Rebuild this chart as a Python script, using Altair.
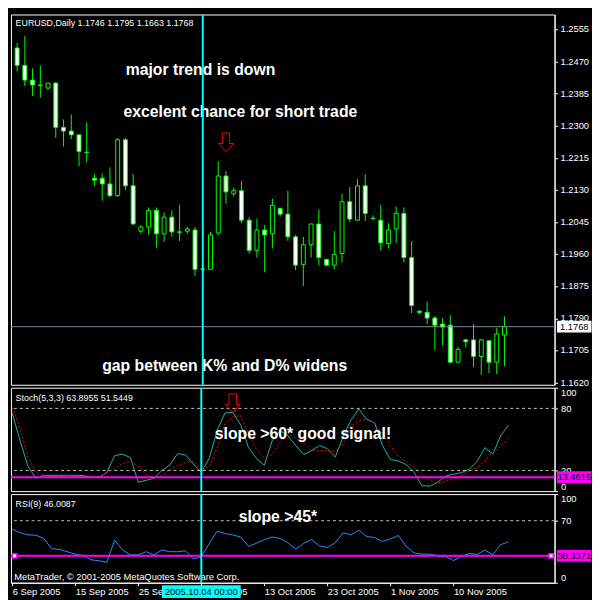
import altair as alt
import pandas as pd

# ---------------- data ----------------
opens = [1.2506, 1.2460, 1.2421, 1.2408, 1.2400, 1.2413, 1.2296, 1.2286, 1.2276, 1.2230,
         1.2161, 1.2161, 1.2146, 1.2115, 1.2263, 1.2141, 1.2021, 1.2032, 1.2076, 1.2014,
         1.2058, 1.2019, 1.2021, 1.2024, 1.1920, 1.1920, 1.2016, 1.2167, 1.2120, 1.2128,
         1.2050, 1.1970, 1.2024, 1.2014, 1.2081, 1.2066, 1.2006, 1.1933, 1.1985, 1.2040,
         1.1946, 1.1931, 1.1962, 1.2099, 1.2050, 1.2141, 1.2055, 1.2050, 1.1988, 1.2027,
         1.2068, 1.1951, 1.1809, 1.1806, 1.1791, 1.1775, 1.1772, 1.1674, 1.1733, 1.1733,
         1.1689, 1.1731, 1.1674, 1.1746]
highs = [1.2519, 1.2538, 1.2452, 1.2460, 1.2413, 1.2416, 1.2317, 1.2330, 1.2278, 1.2309,
         1.2172, 1.2174, 1.2190, 1.2268, 1.2268, 1.2172, 1.2037, 1.2084, 1.2084, 1.2071,
         1.2076, 1.2091, 1.2032, 1.2032, 1.1931, 1.2019, 1.2206, 1.2180, 1.2136, 1.2154,
         1.2058, 1.2055, 1.2037, 1.2107, 1.2084, 1.2128, 1.2011, 1.2006, 1.2040, 1.2078,
         1.1949, 1.2021, 1.2120, 1.2138, 1.2159, 1.2172, 1.2063, 1.2091, 1.2042, 1.2086,
         1.2084, 1.1995, 1.1811, 1.1835, 1.1796, 1.1791, 1.1798, 1.1715, 1.1736, 1.1775,
         1.1736, 1.1731, 1.1765, 1.1795]
lows = [1.2444, 1.2405, 1.2379, 1.2374, 1.2395, 1.2268, 1.2245, 1.2265, 1.2193, 1.2203,
        1.2141, 1.2102, 1.2110, 1.2112, 1.2130, 1.2038, 1.2014, 1.2011, 1.1977, 1.1993,
        1.2006, 1.1995, 1.2014, 1.1902, 1.1912, 1.1918, 1.2011, 1.2094, 1.2112, 1.2042,
        1.1962, 1.1951, 1.1912, 1.1975, 1.2060, 1.1995, 1.1918, 1.1876, 1.1951, 1.1931,
        1.1928, 1.1920, 1.1938, 1.2045, 1.2048, 1.2048, 1.2050, 1.1970, 1.1975, 1.1990,
        1.1938, 1.1804, 1.1801, 1.1775, 1.1705, 1.1718, 1.1671, 1.1672, 1.1713, 1.1661,
        1.1640, 1.1645, 1.1643, 1.1663]
closes = [1.2460, 1.2421, 1.2408, 1.2407, 1.2413, 1.2296, 1.2286, 1.2276, 1.2232, 1.2229,
          1.2156, 1.2146, 1.2115, 1.2263, 1.2141, 1.2040, 1.2032, 1.2076, 1.2014, 1.2058,
          1.2019, 1.2018, 1.2027, 1.1920, 1.1921, 1.2011, 1.2167, 1.2125, 1.2128, 1.2050,
          1.1970, 1.2024, 1.2011, 1.2089, 1.2066, 1.2006, 1.1931, 1.1985, 1.2040, 1.1951,
          1.1931, 1.1959, 1.2099, 1.2053, 1.2141, 1.2068, 1.2054, 1.1990, 1.2024, 1.2068,
          1.1951, 1.1824, 1.1806, 1.1791, 1.1772, 1.1767, 1.1674, 1.1708, 1.1728, 1.1689,
          1.1733, 1.1674, 1.1749, 1.1768]
stoch_k = [75.6, 48.8, 24.0, 12.4, 15.3, 15.3, 15.3, 15.3, 15.3, 15.0,
           13.5, 13.4, 18.0, 34.4, 35.7, 32.5, 8.6, 10.5, 12.4, 20.0,
           25.2, 36.4, 35.0, 26.3, 18.2, 31.6, 58.4, 75.6, 76.1, 64.1,
           42.1, 31.6, 24.9, 48.8, 58.4, 53.6, 44.0, 35.4, 39.2, 44.0,
           41.1, 33.0, 52.6, 68.9, 79.4, 69.4, 66.0, 44.0, 30.6, 29.2,
           25.8, 18.2, 5.3, 4.8, 8.6, 14.6, 16.3, 17.9, 21.0, 28.7,
           42.1, 35.7, 53.6, 63.9]
stoch_d = [81.0, 61.0, 33.0, 18.0, 15.0, 14.0, 14.0, 15.0, 14.0, 14.0,
           13.5, 13.5, 17.7, 21.5, 26.5, 29.0, 24.0, 16.0, 12.0, 15.5,
           21.0, 25.0, 27.5, 29.0, 20.0, 23.6, 42.0, 65.0, 72.0, 73.0,
           55.5, 40.0, 32.5, 35.5, 47.0, 55.5, 51.0, 46.5, 39.0, 39.0,
           39.5, 38.0, 46.0, 63.0, 68.0, 70.0, 66.0, 55.0, 44.0, 34.0,
           28.5, 23.0, 16.0, 10.5, 8.0, 9.3, 11.8, 15.5, 19.0, 22.5,
           30.0, 37.0, 43.5, 51.5]
rsi = [60.3, 56.5, 54.0, 53.6, 50.0, 38.5, 37.5, 35.0, 32.2, 30.7,
       25.9, 24.8, 23.0, 48.0, 37.0, 31.5, 31.5, 35.0, 31.5, 37.0,
       35.0, 35.0, 36.0, 26.7, 29.5, 44.0, 58.0, 55.5, 54.0, 51.5,
       41.0, 44.5, 48.5, 51.5, 50.0, 45.0, 38.0, 44.5, 48.7, 41.6,
       39.8, 45.0, 56.5, 53.9, 59.3, 52.1, 51.0, 46.5, 49.4, 53.3,
       41.0, 33.7, 32.3, 32.3, 30.5, 29.5, 25.0, 29.6, 33.0, 32.0,
       37.0, 31.5, 43.0, 46.0]
date_labels = ["6 Sep 2005", "15 Sep 2005", "25 Sep 2005", "4 Oct 2005",
               "13 Oct 2005", "23 Oct 2005", "1 Nov 2005", "10 Nov 2005"]
date_ticks = [0, 8, 16, 24, 32, 40, 48, 56]
price_ticks = [1.2555, 1.2470, 1.2385, 1.2300, 1.2215, 1.2130, 1.2045,
               1.1960, 1.1875, 1.1790, 1.1705, 1.1620]
stoch_levels = [80, 20]
stoch_ticks = [100, 80, 20, 0]
rsi_ticks = [100, 70, 0]
last_price = 1.1768
stoch_line = 13.4615
rsi_line = 30.3371
marker_bar = 24
header = "EURUSD,Daily  1.1746 1.1795 1.1663 1.1768"
stoch_title = "Stoch(5,3,3) 63.8955 51.5449"
rsi_title = "RSI(9) 46.0087"

# ---------------- layout ----------------
FONT = "Liberation Sans"
LFS = 9.5
W = 552
PH, SH, RH = 376, 105, 90
XS = alt.Scale(domain=[-0.16, 68.84], nice=False, zero=False)
PS = alt.Scale(domain=[1.16142, 1.25947], nice=False, zero=False)
OS = alt.Scale(domain=[0, 100], nice=False, zero=False)
LIME, CYAN, MAG = "#00FF00", "#00FFFF", "#FF00FF"
ARROW = "M-0.39,-1 L0.39,-1 L0.39,0.12 L0.8,0.12 L0,1 L-0.8,0.12 L-0.39,0.12 Z"

n = len(opens)
df = pd.DataFrame({"i": list(range(n)), "open": opens, "high": highs,
                   "low": lows, "close": closes, "k": stoch_k, "d": stoch_d,
                   "rsi": rsi})
one = pd.DataFrame({"a": [0]})


def y_axis(vals, labels):
    kw = dict(orient="right", values=vals, title=None, grid=False, labels=labels,
              tickColor="white", domainColor="white", tickSize=3)
    if labels:
        kw.update(labelColor="white", labelFont=FONT, labelFontSize=LFS, labelPadding=3,
                  labelFlush=True, labelOverlap=False, labelBound=False)
    return alt.Axis(**kw)


X_DATE_AXIS = alt.Axis(
    values=date_ticks,
    labelExpr="[" + ",".join(f"'{s}'" for s in date_labels) + "][indexof(" +
              str(date_ticks) + ", datum.value)]",
    title=None, grid=False, labelColor="white", tickColor="white", domainColor="white",
    tickSize=3, labelPadding=1, labelAlign="left", labelFlush=False, labelOverlap=False,
    labelFont=FONT, labelFontSize=LFS)


def box(w, h):
    r = h / w
    return f"M-1,-{r:.3f} L1,-{r:.3f} L1,{r:.3f} L-1,{r:.3f} Z"


class Panel:
    def __init__(self, yscale, yvals, native_labels, xaxis=None):
        self.ys, self.xa = yscale, xaxis
        self.ya = y_axis(yvals, native_labels)

    def X(self, field=None, datum=None):
        if field is not None:
            return alt.X(field, scale=XS, axis=self.xa)
        return alt.X(datum=datum, scale=XS, axis=self.xa)

    def Y(self, field=None, datum=None):
        if field is not None:
            return alt.Y(field, scale=self.ys, axis=self.ya)
        return alt.Y(datum=datum, scale=self.ys, axis=self.ya)

    def tag(self, txt, val, fill, xpix=W + 20, w=35, h=12):
        b = alt.Chart(one).mark_point(shape=box(w, h), filled=True, fill=fill, size=w * w,
                                      opacity=1, strokeWidth=0).encode(
            x=alt.value(xpix), y=self.Y(datum=val))
        t = alt.Chart(one).mark_text(text=txt, color="black", font=FONT, fontSize=LFS,
                                     align="center", baseline="middle").encode(
            x=alt.value(xpix), y=self.Y(datum=val))
        return [b, t]

    def labels(self, vals, fmt):
        d = pd.DataFrame({"v": vals, "t": [fmt.format(v) for v in vals]})
        return alt.Chart(d).mark_text(color="white", font=FONT, fontSize=LFS, align="left",
                                      baseline="middle").encode(
            x=alt.value(W + 6), y=self.Y("v:Q"), text="t:N")

    def cyan(self):
        return alt.Chart(one).mark_rule(color=CYAN, strokeWidth=2).encode(
            x=self.X(datum=marker_bar))

    def arrow(self, xv, yv):
        return alt.Chart(one).mark_point(shape=ARROW, filled=False, color="#FF0000",
                                         strokeWidth=1, size=361, opacity=1).encode(
            x=self.X(datum=xv), y=self.Y(datum=yv))

    def hline(self, v, color, width=1, dash=None):
        kw = dict(color=color, strokeWidth=width)
        if dash:
            kw["strokeDash"] = dash
        return alt.Chart(one).mark_rule(**kw).encode(y=self.Y(datum=v))


def note(txt, xpix, ypix, size=16, bold=True, align="center", baseline="alphabetic"):
    return alt.Chart(one).mark_text(text=txt, color="white", font=FONT, fontSize=size,
                                    fontWeight="bold" if bold else "normal",
                                    align=align, baseline=baseline).encode(
        x=alt.value(xpix), y=alt.value(ypix))


# ---------------- price panel ----------------
P = Panel(PS, price_ticks, False)
wick = alt.Chart(df).mark_rule(color=LIME, strokeWidth=1).encode(
    x=P.X("i:Q"), y=P.Y("low:Q"), y2="high:Q")
body = alt.Chart(df).mark_bar(width=4, stroke=LIME, strokeWidth=1).encode(
    x=P.X("i:Q"), y=P.Y("open:Q"), y2="close:Q",
    fill=alt.condition("datum.close < datum.open", alt.value("white"), alt.value("black")))

price = alt.layer(
    wick, body,
    P.hline(last_price, "#7A8A9A"),
    P.labels(price_ticks, "{:.4f}"),
    note(header, 4.7, 9, size=9, bold=False, align="left", baseline="middle"),
    note("major trend is down", 192.5, 61),
    note("excelent chance for short trade", 233, 104),
    note("gap between K% and D% widens", 217, 362),
    P.cyan(),
    P.arrow(27, 1.2256),
    *P.tag(f"{last_price:.4f}", last_price, "white"),
).properties(width=W, height=PH)

# ---------------- stochastic panel ----------------
S = Panel(OS, stoch_ticks, True)
kline = alt.Chart(df).mark_line(color="#20B2AA", strokeWidth=1).encode(
    x=S.X("i:Q"), y=S.Y("k:Q"))
dline = alt.Chart(df).mark_line(color="#FF0000", strokeWidth=1, strokeDash=[2, 2]).encode(
    x=S.X("i:Q"), y=S.Y("d:Q"))

stoch = alt.layer(
    kline,
    *[S.hline(v, "#C0C0C0", dash=[3, 3]) for v in stoch_levels],
    dline,
    S.hline(stoch_line, MAG, width=2),
    note(stoch_title, 4.7, 10.5, size=9, bold=False, align="left", baseline="middle"),
    note("slope >60* good signal!", 296.5, 52),
    S.cyan(),
    S.arrow(28, 85),
    *S.tag(f"{stoch_line:.4f}", stoch_line, MAG),
).properties(width=W, height=SH)

# ---------------- RSI panel ----------------
R = Panel(OS, rsi_ticks, True, X_DATE_AXIS)
rline = alt.Chart(df).mark_line(color="#1E90FF", strokeWidth=1).encode(
    x=R.X("i:Q"), y=R.Y("rsi:Q"))
handles = alt.Chart(pd.DataFrame({"h": [0.3, 68.4]})).mark_point(
    shape="square", filled=True, fill="white", stroke=MAG, strokeWidth=1.5, size=20,
    opacity=1).encode(x=R.X("h:Q"), y=R.Y(datum=rsi_line))
date_box = alt.Chart(one).mark_point(shape=box(80, 13), filled=True, fill=CYAN, size=6400,
                                     opacity=1, strokeWidth=0).encode(
    x=R.X(datum=marker_bar), y=alt.value(RH + 9))
date_txt = alt.Chart(one).mark_text(text="2005.10.04 00:00", color="black", font=FONT,
                                    fontSize=LFS, align="center", baseline="middle").encode(
    x=R.X(datum=marker_bar), y=alt.value(RH + 9))

rsi_panel = alt.layer(
    rline,
    R.hline(70, "#C0C0C0", dash=[3, 3]),
    R.hline(rsi_line, MAG, width=2),
    handles,
    note(rsi_title, 4.7, 10, size=9, bold=False, align="left", baseline="middle"),
    note("MetaTrader, \u00a9 2001-2005 MetaQuotes Software Corp.", 3.3, 84,
         size=9.5, bold=False, align="left", baseline="middle"),
    note("slope >45*", 271, 28),
    R.cyan(),
    *R.tag(f"{rsi_line:.4f}", rsi_line, MAG),
    date_box, date_txt,
).properties(width=W, height=RH)

chart = alt.vconcat(price, stoch, rsi_panel, spacing=3, bounds="flush").properties(
    padding=0
).configure(background="black").configure_view(stroke="white", strokeWidth=1)

chart.save("out.html", embed_options={"renderer": "svg", "actions": False})
